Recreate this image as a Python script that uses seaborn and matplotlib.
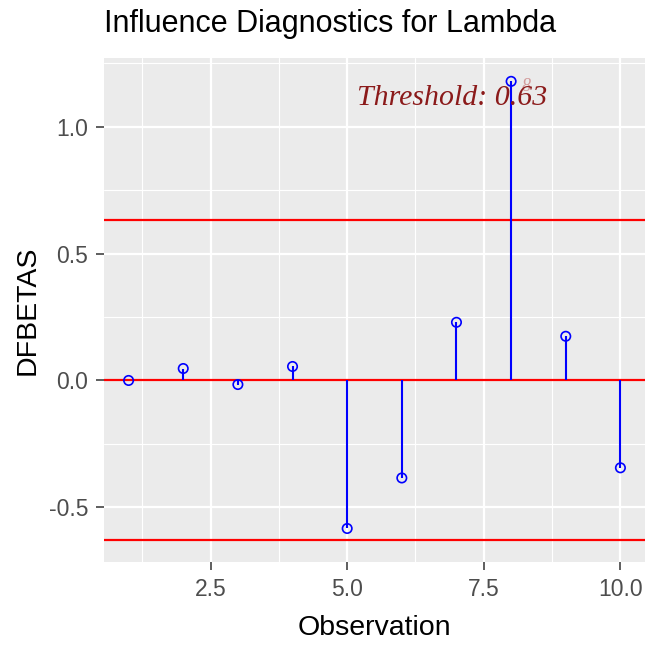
import numpy as np
import pandas as pd
import seaborn as sns
import matplotlib
matplotlib.use('Agg')
import matplotlib.pyplot as plt
from matplotlib.ticker import MultipleLocator

# values
observation = [1, 2, 3, 4, 5, 6, 7, 8, 9, 10]
dfbetas = [0.0, 0.047, -0.016, 0.055, -0.583, -0.384, 0.229, 1.178, 0.174, -0.344]
threshold = 0.63
outlier_obs = [8]
title = "Influence Diagnostics for Lambda"

df = pd.DataFrame({"obs": observation, "dfb": dfbetas})

sns.set_theme(style="darkgrid", rc={
    "axes.facecolor": "#EBEBEB",
    "grid.color": "white",
    "axes.edgecolor": "#EBEBEB",
})
plt.rcParams['font.family'] = ['Liberation Sans', 'DejaVu Sans']

fig = plt.figure(figsize=(6.51, 6.48), dpi=100)
ax = fig.add_axes([104 / 651, 1 - 562 / 648, 541 / 651, 504 / 648])

# threshold lines
for h in [threshold, 0.0, -threshold]:
    ax.axhline(h, color="red", lw=1.6, zorder=2)

# stems + open circles
ax.vlines(df["obs"], 0, df["dfb"], color="blue", lw=1.5, zorder=3)
sns.scatterplot(data=df, x="obs", y="dfb", ax=ax, marker="o", s=46,
                facecolors="none", edgecolor="blue", linewidth=1.2, zorder=4)

# outlier label
for o in outlier_obs:
    ax.annotate(str(o), (o, dfbetas[observation.index(o)]), xytext=(11, -4),
                textcoords="offset points", ha="center", va="center",
                fontsize=13, family="Liberation Serif", style="italic",
                color="#d29a9a", zorder=5)

ax.text(0.643, 0.907, "Threshold: %.2f" % threshold, transform=ax.transAxes,
        ha="center", va="baseline", fontsize=21.5, family="Liberation Serif",
        style="italic", color="#8B1A1A", zorder=5)

ax.set_xlim(0.55, 10.45)
ax.set_ylim(-0.715, 1.27)
ax.xaxis.set_major_locator(MultipleLocator(2.5))
ax.yaxis.set_major_locator(MultipleLocator(0.5))
ax.xaxis.set_minor_locator(MultipleLocator(1.25))
ax.yaxis.set_minor_locator(MultipleLocator(0.25))
ax.xaxis.set_major_formatter(matplotlib.ticker.FormatStrFormatter('%.1f'))
ax.yaxis.set_major_formatter(matplotlib.ticker.FormatStrFormatter('%.1f'))
ax.grid(which="major", color="white", lw=1.6)
ax.grid(which="minor", color="white", lw=0.8)
ax.tick_params(which="major", length=5.8, width=1.1, color="#333333",
               labelsize=16.5, labelcolor="#4D4D4D", pad=5.5,
               bottom=True, left=True)
ax.tick_params(which="minor", length=0)
for s in ax.spines.values():
    s.set_visible(False)

ax.set_xlabel("Observation", fontsize=20.5, color="black", labelpad=10)
ax.set_ylabel("DFBETAS", fontsize=20.5, color="black", labelpad=6)
ax.set_title(title, loc="left", fontsize=22, color="black", pad=18.5)

fig.savefig("out.png", dpi=100)
